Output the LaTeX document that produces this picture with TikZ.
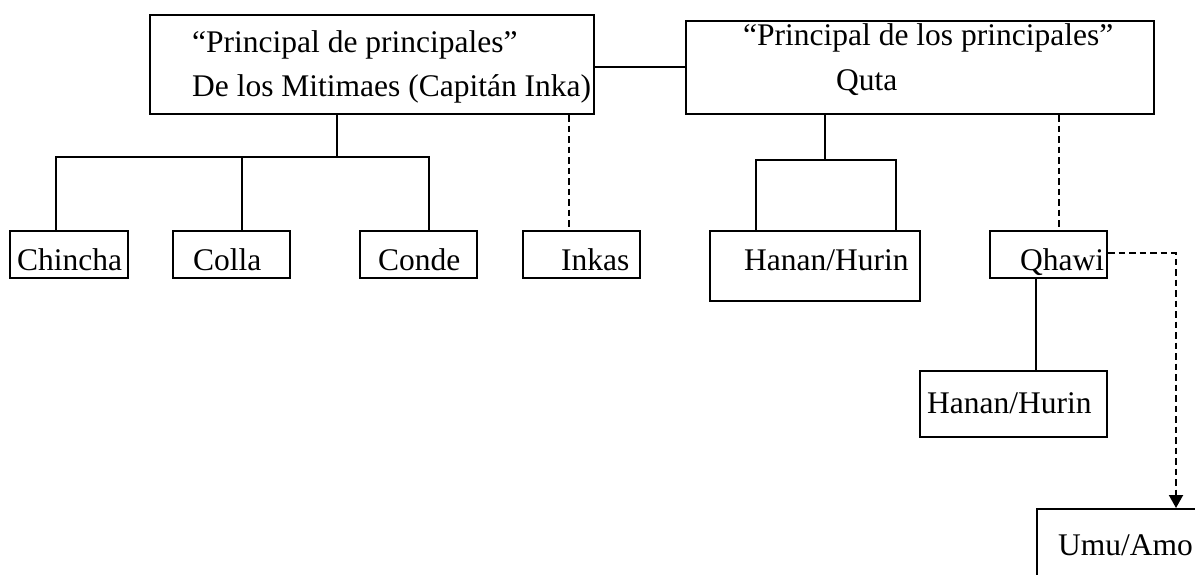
\documentclass[tikz,border=0pt]{standalone}
\usepackage{fontspec}
\setmainfont{Liberation Serif}
\usetikzlibrary{arrows.meta}
\begin{document}
\begin{tikzpicture}[x=1pt,y=-1pt,
  box/.style={draw,line width=2.1pt,inner sep=0pt,anchor=north west},
  lbl/.style={anchor=base west,inner sep=0pt,font=\fontsize{31.5}{36}\selectfont},
  conn/.style={line width=2.1pt},
  dconn/.style={line width=2pt,dash pattern=on 6.5pt off 4pt}]
\useasboundingbox (0,0) rectangle (1195,575);
\clip (0,0) rectangle (1195,575);
\fill[white] (0,0) rectangle (1195,575);
% boxes
\node[box,minimum width=444pt,minimum height=99pt] (A) at (149,14) {};
\node[box,minimum width=468pt,minimum height=93pt] (B) at (685,20) {};
\node[box,minimum width=118pt,minimum height=47pt] (chincha) at (9,230) {};
\node[box,minimum width=117pt,minimum height=47pt] (colla) at (172,230) {};
\node[box,minimum width=117pt,minimum height=47pt] (conde) at (359,230) {};
\node[box,minimum width=117pt,minimum height=47pt] (inkas) at (522,230) {};
\node[box,minimum width=210pt,minimum height=70pt] (hanan1) at (709,230) {};
\node[box,minimum width=117pt,minimum height=47pt] (qhawi) at (989,230) {};
\node[box,minimum width=187pt,minimum height=66pt] (hanan2) at (919,370) {};
\node[box,minimum width=200pt,minimum height=110pt] (umu) at (1036,508) {};
% texts
\node[lbl] (tA1) at (192,53) {“Principal de principales”};
\node[lbl] (tA2) at (192,97) {De los Mitimaes (Capitán Inka)};
\node[lbl] (tB1) at (743,46) {“Principal de los principales”};
\node[lbl] (tB2) at (836,91) {Quta};
\node[lbl] (tchincha) at (17,270) {Chincha};
\node[lbl] (tcolla) at (193,270) {Colla};
\node[lbl] (tconde) at (378,270) {Conde};
\node[lbl] (tinkas) at (561,270) {Inkas};
\node[lbl] (thanan1) at (744,270) {Hanan/Hurin};
\node[lbl] (tqhawi) at (1020,270) {Qhawi};
\node[lbl] (thanan2) at (927,413) {Hanan/Hurin};
\node[lbl] (tumu) at (1058,555) {Umu/Amo};
% coordinates
\coordinate (ab) at (0,67);
\coordinate (jA) at (337,157);
\coordinate (hl) at (56,157);
\coordinate (hm) at (242,157);
\coordinate (hr) at (429,157);
\coordinate (dA) at (569,0);
\coordinate (jB) at (825,160);
\coordinate (bl) at (756,160);
\coordinate (br) at (896,160);
\coordinate (dB) at (1059,0);
\coordinate (qr) at (1176,253);
\coordinate (qd) at (1036,0);
% connectors
\draw[conn] (A.east |- ab) -- (B.west |- ab);
\draw[conn] (A.south -| jA) -- (jA);
\draw[conn] (chincha.north -| hl) -- (hl) -- (hr) -- (conde.north -| hr);
\draw[conn] (hm) -- (colla.north -| hm);
\draw[dconn] (A.south -| dA) -- (inkas.north -| dA);
\draw[conn] (B.south -| jB) -- (jB);
\draw[conn] (hanan1.north -| bl) -- (bl) -- (br) -- (hanan1.north -| br);
\draw[dconn] (B.south -| dB) -- (qhawi.north -| dB);
\draw[dconn,-{Triangle[width=14pt,length=13pt]}] (qhawi.east |- qr) -- (qr) -- (umu.north -| qr);
\draw[conn] (qhawi.south -| qd) -- (hanan2.north -| qd);
\end{tikzpicture}
\end{document}
